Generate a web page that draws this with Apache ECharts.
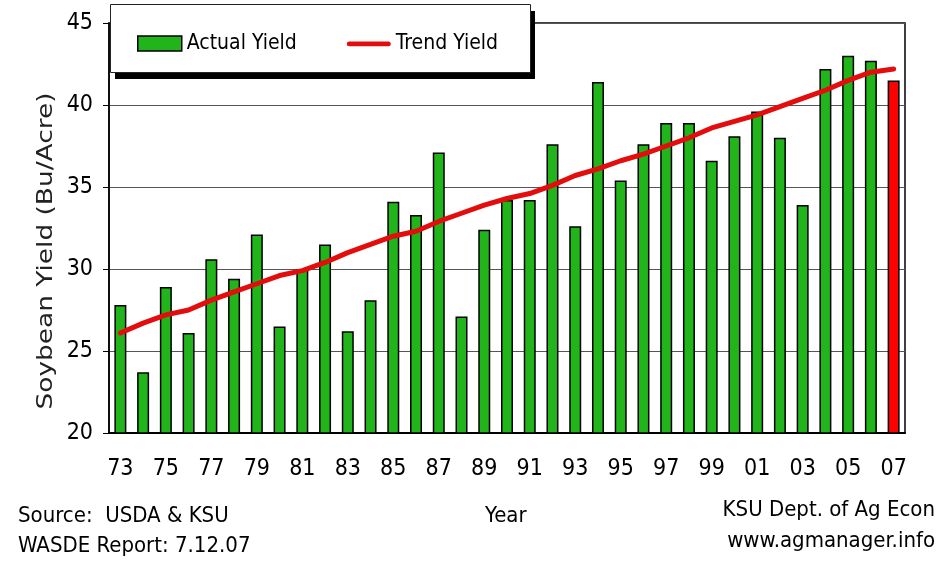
<!DOCTYPE html>
<html lang="en">
<head>
  <meta charset="UTF-8">
  <title>Soybean Yield</title>
  <style>
    html, body { margin: 0; padding: 0; background: #fff; }
    #myChart { width: 951px; height: 564px; }
  </style>
</head>
<body>
  <div id="myChart"></div>
  <script src="https://cdn.jsdelivr.net/npm/echarts@6/dist/echarts.min.js"></script>
  <script>
    // years 1973 - 2007
    const years = ['73', '74', '75', '76', '77', '78', '79', '80', '81', '82', '83', '84',
      '85', '86', '87', '88', '89', '90', '91', '92', '93', '94', '95', '96', '97', '98',
      '99', '00', '01', '02', '03', '04', '05', '06', '07'];
    const actualYield = [27.8, 23.7, 28.9, 26.1, 30.6, 29.4, 32.1, 26.5, 30.0, 31.5, 26.2, 28.1,
      34.1, 33.3, 37.1, 27.1, 32.4, 34.2, 34.2, 37.6, 32.6, 41.4, 35.4, 37.6, 38.9, 38.9,
      36.6, 38.1, 39.6, 38.0, 33.9, 42.2, 43.0, 42.7, 41.5];
    const trendYield = [26.1, 26.7, 27.2, 27.5, 28.1, 28.6, 29.1, 29.6, 29.9, 30.4, 31.0, 31.5,
      32.0, 32.3, 32.9, 33.4, 33.9, 34.3, 34.6, 35.1, 35.7, 36.1, 36.6, 37.0, 37.5, 38.0,
      38.6, 39.0, 39.4, 39.9, 40.4, 40.9, 41.5, 42.0, 42.2];

    const font = '"Liberation Sans Narrow", "DejaVu Sans Condensed", "Liberation Sans", sans-serif';
    const green = '#21b41b';
    const red = '#e30d0d';

    // last year is the estimate, drawn red
    const barData = actualYield.map((v, i) => i === actualYield.length - 1
      ? { value: v, itemStyle: { color: '#ff0000' } }
      : v);

    const myChart = echarts.init(document.getElementById('myChart'));
    const option = {
      animation: false,
      backgroundColor: '#fff',
      textStyle: { fontFamily: font },
      grid: {
        left: 109, right: 46, top: 23, bottom: 131,
        show: true, borderColor: '#000', borderWidth: 1.5
      },
      graphic: [
        // legend box with shadow
        { type: 'rect', z: 5, shape: { x: 115, y: 11, width: 420, height: 68 }, style: { fill: '#000' } },
        { type: 'rect', z: 6, shape: { x: 110.5, y: 4.5, width: 420, height: 68 }, style: { fill: '#fff', stroke: '#222', lineWidth: 1 } },
        {
          type: 'text', x: 46, y: 251, rotation: Math.PI / 2, scaleX: 1.2,
          style: { text: 'Soybean Yield (Bu/Acre)', font: '22px "DejaVu Sans", sans-serif', fill: '#222', align: 'center', verticalAlign: 'middle' }
        },
        { type: 'text', left: 18, top: 505, style: { text: 'Source:  USDA & KSU', font: '22px ' + font, fill: '#000' } },
        { type: 'text', left: 18, top: 535, style: { text: 'WASDE Report: 7.12.07', font: '22px ' + font, fill: '#000' } },
        { type: 'text', left: 485, top: 505, style: { text: 'Year', font: '22px ' + font, fill: '#000' } },
        { type: 'text', right: 16, top: 499, style: { text: 'KSU Dept. of Ag Econ', font: '22px ' + font, fill: '#000' } },
        { type: 'text', right: 16, top: 530, style: { text: 'www.agmanager.info', font: '22px ' + font, fill: '#000' } }
      ],
      legend: {
        z: 10,
        left: 132, top: 28,
        itemWidth: 44, itemHeight: 15, itemGap: 50,
        textStyle: { fontSize: 21, color: '#000', fontFamily: font },
        data: [
          { name: 'Actual Yield', icon: 'rect', itemStyle: { color: green, borderColor: '#000', borderWidth: 1.5 } },
          {
            name: 'Trend Yield',
            icon: 'path://M1.5,5.5 L42.5,5.5 A2.5,2.5 0 0 1 42.5,10.5 L1.5,10.5 A2.5,2.5 0 0 1 1.5,5.5 Z M0,0 L0.01,0 L0.01,15 L0,15 Z',
            itemStyle: { color: red, borderWidth: 0 }
          }
        ]
      },
      xAxis: {
        type: 'category',
        data: years,
        axisLine: { lineStyle: { color: '#000', width: 2 } },
        axisTick: { interval: 1, length: 7, lineStyle: { color: '#000' } },
        axisLabel: { interval: 1, margin: 25, fontSize: 23, color: '#000', fontFamily: font }
      },
      yAxis: {
        type: 'value',
        min: 20, max: 45, interval: 5,
        axisLine: { show: true, lineStyle: { color: '#000', width: 1.5 } },
        axisTick: { show: true, length: 6, lineStyle: { color: '#000' } },
        axisLabel: { fontSize: 23, color: '#000', fontFamily: font, margin: 16 },
        splitLine: { lineStyle: { color: '#555', width: 1 } }
      },
      series: [
        {
          name: 'Actual Yield',
          type: 'bar',
          barWidth: 12,
          data: barData,
          itemStyle: { color: green, borderColor: '#000', borderWidth: 1.5 }
        },
        {
          name: 'Trend Yield',
          type: 'line',
          data: trendYield,
          symbol: 'none',
          z: 4,
          lineStyle: { color: red, width: 5, cap: 'round', join: 'round' },
          itemStyle: { color: red }
        }
      ]
    };
    myChart.setOption(option);
  </script>
</body>
</html>
